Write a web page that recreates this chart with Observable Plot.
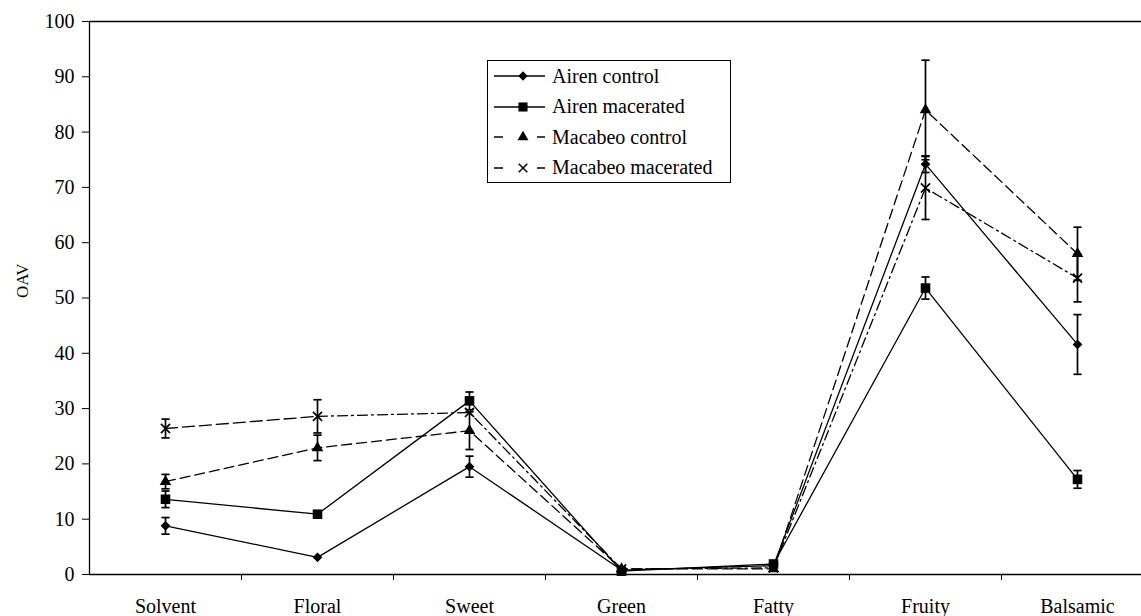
<!DOCTYPE html>
<html><head><meta charset="utf-8">
<script src="https://cdn.jsdelivr.net/npm/d3@7"></script>
<script src="https://cdn.jsdelivr.net/npm/@observablehq/plot@0.6"></script>
<style>
body{margin:0;overflow:hidden;background:#fff;font-family:"Liberation Serif","Times New Roman",serif;}
#wrap{position:relative;width:1141px;height:616px;overflow:hidden;}
#wrap svg text{font-family:"Liberation Serif","Times New Roman",serif !important;}
#legend{position:absolute;left:487px;top:60px;width:244px;height:123px;border:1.3px solid #000;background:#fff;box-sizing:border-box;padding-top:0px;}
#legend .row{display:flex;align-items:center;height:30.5px;font-size:20px;color:#000;}
#legend svg{margin-left:6px;margin-right:7px;}
</style></head>
<body><div id="wrap"></div>
<script>
const categories = ["Solvent","Floral","Sweet","Green","Fatty","Fruity","Balsamic"];
const yTicks = [0,10,20,30,40,50,60,70,80,90,100];
const seriesNames = ["Airen control","Airen macerated","Macabeo control","Macabeo macerated"];
const airenControl      = [8.8, 3.1, 19.5, 0.8, 1.6, 74.2, 41.6];
const airenControlErr   = [1.5, 0,   1.9,  0,   0,   1.5,  5.4];
const airenMacerated    = [13.6, 10.9, 31.4, 0.6, 1.9, 51.8, 17.2];
const airenMaceratedErr = [1.5, 0,    1.6,  0,   0,   2.0,  1.6];
const macabeoControl    = [16.8, 22.9, 26.0, 1.0, 1.0, 84.0, 58.0];
const macabeoControlErr = [1.3, 2.3,  3.4,  0,   0,   9.0,  4.8];
const macabeoMacerated    = [26.4, 28.6, 29.3, 1.0, 1.2, 69.9, 53.6];
const macabeoMaceratedErr = [1.7, 3.0,  0,    0,   0,   5.7,  4.3];

const seriesVals = [airenControl, airenMacerated, macabeoControl, macabeoMacerated];
const seriesErrs = [airenControlErr, airenMaceratedErr, macabeoControlErr, macabeoMaceratedErr];
const symbols = ["diamond2","square","triangle","times"];
const sizes = [4.4, 5.4, 4.3, 4.2];

const rows = [];
seriesNames.forEach((s, si) => categories.forEach((c, i) => rows.push({series: s, si, i, v: seriesVals[si][i], e: seriesErrs[si][i]})));
const errRows = rows.filter(d => d.e > 0);
const cap = 0.027;
const F = '"Liberation Serif","Times New Roman",serif';
const lineOpts = {x: "i", y: "v", stroke: "#000", strokeWidth: 1.3};

const marks = [
  Plot.ruleY([0], {stroke: "#000", strokeWidth: 1.3}),
  Plot.ruleY([100], {stroke: "#000", strokeWidth: 1.3}),
  Plot.ruleX([-0.5], {stroke: "#000", strokeWidth: 1.3}),
  Plot.axisY({ticks: yTicks, tickSize: 7, tickPadding: 8, label: null, fontSize: 20, fontFamily: F}),
  Plot.text(["OAV"], {frameAnchor: "left", dx: -67, rotate: -90, fontSize: 17, fontFamily: F, fill: "#000"}),
  Plot.axisX({ticks: [0.5,1.5,2.5,3.5,4.5,5.5], tickSize: 6, tickFormat: () => "", label: null}),
  Plot.axisX({ticks: [0,1,2,3,4,5,6], tickSize: 0, tickPadding: 24, tickFormat: i => categories[i], label: null, fontSize: 20, fontFamily: F}),
  // Airen: solid
  Plot.line(rows.filter(d => d.si === 0), lineOpts),
  Plot.line(rows.filter(d => d.si === 1), lineOpts),
  // Macabeo control: dashed
  Plot.line(rows.filter(d => d.si === 2), {...lineOpts, strokeDasharray: "10,5"}),
  // Macabeo macerated: dashed first segment, dash-dot after
  Plot.line(rows.filter(d => d.si === 3 && d.i <= 1), {...lineOpts, strokeDasharray: "12,5"}),
  Plot.line(rows.filter(d => d.si === 3 && d.i >= 1), {...lineOpts, strokeDasharray: "10,4,2,4"}),
  Plot.ruleX(errRows, {x: "i", y1: d => d.v - d.e, y2: d => d.v + d.e, stroke: "#000", strokeWidth: 1.7}),
  Plot.link(errRows, {x1: d => d.i - cap, x2: d => d.i + cap, y1: d => d.v + d.e, y2: d => d.v + d.e, stroke: "#000", strokeWidth: 1.7}),
  Plot.link(errRows, {x1: d => d.i - cap, x2: d => d.i + cap, y1: d => d.v - d.e, y2: d => d.v - d.e, stroke: "#000", strokeWidth: 1.7})
];
seriesNames.forEach((s, si) => {
  const isStroke = symbols[si] === "times";
  marks.push(Plot.dot(rows.filter(d => d.si === si), {x: "i", y: "v", symbol: symbols[si], r: sizes[si],
    fill: isStroke ? "none" : "#000", stroke: isStroke ? "#000" : "none", strokeWidth: 1.7}));
});

const chart = Plot.plot({
  width: 1141, height: 616,
  marginLeft: 89, marginRight: 0, marginTop: 21, marginBottom: 42,
  style: {fontFamily: F, fontSize: "20px", color: "#000", background: "#fff"},
  x: {domain: [-0.5, 6.5], range: [89, 1153], axis: null},
  y: {domain: [0, 100], range: [574, 21], axis: null},
  marks
});
d3.select(chart).selectAll("text").style("font-family", F);
const wrap = document.getElementById("wrap");
wrap.appendChild(chart);

// legend
const legend = document.createElement("div");
legend.id = "legend";
const symMap = {diamond2: d3.symbolDiamond2, square: d3.symbolSquare, triangle: d3.symbolTriangle, times: d3.symbolTimes};
seriesNames.forEach((s, si) => {
  const row = document.createElement("div");
  row.className = "row";
  const svg = d3.create("svg").attr("width", 51).attr("height", 16);
  const isStroke = symbols[si] === "times";
  if (si < 2) {
    svg.append("line").attr("x1", 0).attr("x2", 51).attr("y1", 8).attr("y2", 8).attr("stroke", "#000").attr("stroke-width", 1.5);
  } else {
    svg.append("line").attr("x1", 0).attr("x2", 9).attr("y1", 8).attr("y2", 8).attr("stroke", "#000").attr("stroke-width", 1.5);
    svg.append("line").attr("x1", 43).attr("x2", 51).attr("y1", 8).attr("y2", 8).attr("stroke", "#000").attr("stroke-width", 1.5);
  }
  const r = sizes[si];
  svg.append("path").attr("transform", "translate(29,8)")
    .attr("d", d3.symbol(symMap[symbols[si]], Math.PI * r * r * 0.9)())
    .attr("fill", isStroke ? "none" : "#000").attr("stroke", isStroke ? "#000" : "none").attr("stroke-width", 1.5);
  row.appendChild(svg.node());
  const t = document.createElement("span");
  t.textContent = s;
  row.appendChild(t);
  legend.appendChild(row);
});
wrap.appendChild(legend);
</script>
</body></html>
